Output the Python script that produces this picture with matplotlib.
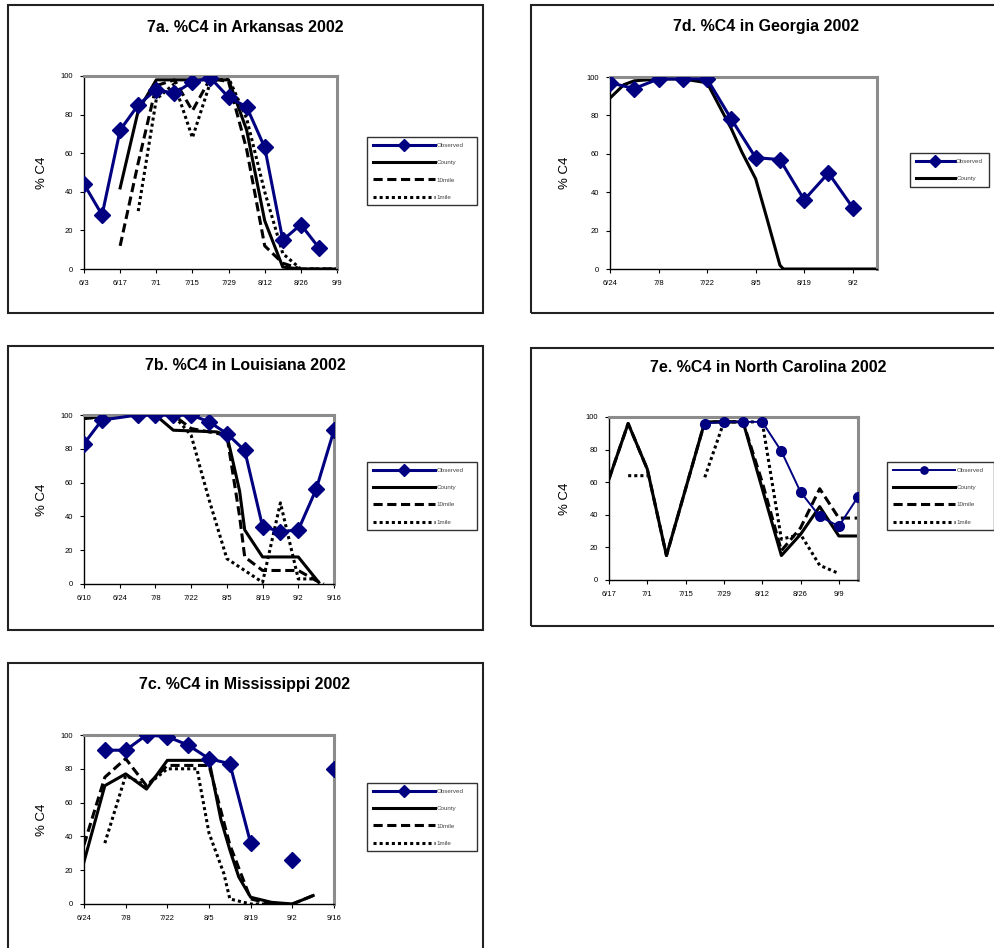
import pandas as pd
import numpy as np
import matplotlib
matplotlib.use("Agg")
import matplotlib.pyplot as plt
from matplotlib.patches import Rectangle

plt.rcParams['font.family'] = ['Liberation Sans', 'DejaVu Sans']

W, H = 995, 948
NAVY = '#000080'

# ---------- 7a Arkansas ----------
ark_ticks = ['6/3', '6/17', '7/1', '7/15', '7/29', '8/12', '8/26', '9/9']
ark_obs_dates = ['6/3', '6/10', '6/17', '6/24', '7/1', '7/8', '7/15', '7/22', '7/29', '8/5', '8/12', '8/19', '8/26', '9/2']
ark_obs = [44, 28, 72, 85, 93, 91, 97, 99, 89, 84, 63, 15, 23, 11]
ark_county_dates = ['6/17', '6/24', '7/1', '7/8', '7/15', '7/22', '7/29', '8/5', '8/12', '8/19', '8/26', '9/2', '9/9']
ark_county = [42, 82, 98, 98, 98, 98, 98, 72, 25, 1, 0, 0, 0]
ark_10mi_dates = ['6/17', '6/24', '7/1', '7/8', '7/15', '7/22', '7/29', '8/5', '8/12', '8/19', '8/26', '9/2', '9/9']
ark_10mi = [12, 55, 95, 98, 82, 99, 97, 62, 12, 3, 0, 0, 0]
ark_1mi_dates = ['6/24', '7/1', '7/8', '7/15', '7/22', '7/29', '8/5', '8/12', '8/19', '8/26', '9/2', '9/9']
ark_1mi = [30, 88, 96, 68, 97, 99, 78, 40, 8, 0, 0, 0]

# ---------- 7d Georgia ----------
geo_ticks = ['6/24', '7/8', '7/22', '8/5', '8/19', '9/2']
geo_obs_dates = ['6/24', '7/1', '7/8', '7/15', '7/22', '7/29', '8/5', '8/12', '8/19', '8/26', '9/2']
geo_obs = [97, 94, 99, 99, 99, 78, 58, 57, 36, 50, 32]
geo_county_dates = ['6/24', '6/28', '7/1', '7/8', '7/15', '7/22', '7/29', '8/1', '8/5', '8/8', '8/12', '8/13', '9/9']
geo_county = [89, 96, 98, 99, 99, 97, 73, 61, 47, 28, 2, 0, 0]

# ---------- 7b Louisiana ----------
lou_ticks = ['6/10', '6/24', '7/8', '7/22', '8/5', '8/19', '9/2', '9/16']
lou_obs_dates = ['6/10', '6/17', '7/1', '7/8', '7/15', '7/22', '7/29', '8/5', '8/12', '8/19', '8/26', '9/2', '9/9', '9/16']
lou_obs = [83, 97, 100, 100, 100, 100, 96, 89, 79, 34, 31, 32, 56, 91]
lou_county_dates = ['6/10', '6/24', '7/8', '7/15', '8/1', '8/5', '8/7', '8/10', '8/12', '8/19', '9/2', '9/10']
lou_county = [98, 100, 100, 91, 90, 88, 75, 55, 32, 16, 16, 1]
lou_10mi_dates = ['6/10', '6/24', '7/15', '7/22', '7/29', '8/5', '8/10', '8/12', '8/19', '9/2', '9/9', '9/12']
lou_10mi = [98, 100, 100, 92, 90, 88, 40, 16, 8, 8, 2, 0]
lou_1mi_dates = ['6/10', '6/24', '7/15', '7/22', '7/29', '8/5', '8/12', '8/19', '8/26', '9/2', '9/9']
lou_1mi = [98, 100, 100, 88, 50, 15, 8, 1, 48, 3, 3]

# ---------- 7e North Carolina ----------
nc_ticks = ['6/17', '7/1', '7/15', '7/29', '8/12', '8/26', '9/9']
nc_obs_dates = ['7/22', '7/29', '8/5', '8/12', '8/19', '8/26', '9/2', '9/9', '9/16']
nc_obs = [96, 97, 97, 97, 79, 54, 39, 33, 51]
nc_county_dates = ['6/17', '6/24', '7/1', '7/8', '7/22', '8/5', '8/19', '8/26', '9/2', '9/9', '9/16']
nc_county = [62, 96, 68, 15, 97, 97, 15, 28, 45, 27, 27]
nc_10mi_dates = ['6/17', '6/24', '7/1', '7/8', '7/22', '8/5', '8/12', '8/19', '8/26', '9/2', '9/9', '9/16']
nc_10mi = [62, 96, 68, 15, 97, 97, 60, 18, 32, 56, 38, 38]
nc_1mi_dates = ['6/24', '7/1', '7/8', '7/22', '7/29', '8/5', '8/12', '8/19', '8/26', '9/2', '9/9']
nc_1mi = [64, 64, np.nan, 63, 97, 97, 97, 25, 28, 9, 4]

# ---------- 7c Mississippi ----------
mis_ticks = ['6/24', '7/8', '7/22', '8/5', '8/19', '9/2', '9/16']
mis_obs_dates = ['7/1', '7/8', '7/15', '7/22', '7/29', '8/5', '8/12', '8/19', '8/26', '9/2', '9/9', '9/16']
mis_obs = [91, 91, 100, 99, 94, 86, 83, 36, np.nan, 26, np.nan, 80]
mis_county_dates = ['6/24', '7/1', '7/8', '7/15', '7/22', '7/29', '8/5', '8/9', '8/12', '8/15', '8/19', '8/26', '9/2', '9/9']
mis_county = [25, 70, 77, 68, 85, 85, 85, 50, 32, 16, 4, 1, 0, 5]
mis_10mi_dates = ['6/24', '7/1', '7/8', '7/15', '7/22', '7/29', '8/5', '8/12', '8/19', '8/26', '9/2', '9/9']
mis_10mi = [35, 75, 86, 70, 82, 82, 82, 35, 3, 0, 0, 5]
mis_1mi_dates = ['7/1', '7/8', '7/15', '7/22', '7/29', '8/1', '8/5', '8/10', '8/12', '8/19', '8/26', '9/2']
mis_1mi = [36, 76, 70, 80, 80, 80, 42, 18, 3, 0, 0, 0]

legend_labels = ['Observed', 'County', '10mile', '1mile']


def d(labels):
    return pd.to_datetime(['2002/' + s for s in labels])


def fx(x):
    return x / W


def fy(y):
    return 1 - y / H


fig = plt.figure(figsize=(W / 100, H / 100), dpi=100)


def panel(box, plot, title, title_xy, ylab_x, ticks, xlim, series, leg_rect,
          obs_marker='D', obs_lw=2.2, obs_ms=8.5, handlelen=10, expand=True):
    x0, y0, x1, y1 = box
    fig.patches.append(Rectangle((fx(x0), fy(y1)), fx(x1 - x0), (y1 - y0) / H,
                                 transform=fig.transFigure, fill=False,
                                 edgecolor='#222222', lw=1.5))
    fig.text(fx(title_xy[0]), fy(title_xy[1]), title, ha='center', va='center',
             fontsize=11.5, fontweight='bold')
    px0, py0, px1, py1 = plot
    ax = fig.add_axes([fx(px0), fy(py1), fx(px1 - px0), (py1 - py0) / H])
    fig.text(fx(ylab_x), fy((py0 + py1) / 2), '% C4', rotation=90, ha='center',
             va='center', fontsize=9.5)

    handles = []
    for kind, dates, vals in series:
        if kind == 'obs':
            h, = ax.plot(d(dates), vals, color=NAVY, lw=obs_lw, marker=obs_marker,
                         ms=obs_ms, zorder=5)
        elif kind == 'county':
            h, = ax.plot(d(dates), vals, color='black', lw=2.2)
        elif kind == '10mi':
            h, = ax.plot(d(dates), vals, color='black', lw=2.2, ls=(0, (3, 1.5)))
        else:
            h, = ax.plot(d(dates), vals, color='black', lw=2.2, ls=(0, (1, 1)))
        handles.append(h)

    ax.set_ylim(0, 100)
    ax.set_yticks(range(0, 101, 20))
    ax.set_xlim(d(xlim))
    ax.set_xticks(d(ticks))
    ax.set_xticklabels(ticks)
    ax.tick_params(labelsize=5.5, length=3, width=0.8, pad=5)
    for s in ['top', 'right']:
        ax.spines[s].set_color('#8c8c8c')
        ax.spines[s].set_linewidth(2.2)
    for s in ['left', 'bottom']:
        ax.spines[s].set_linewidth(1)

    lx0, ly0, lx1, ly1 = leg_rect
    if expand:
        anchor = (fx(lx0), fy(ly0), fx(lx1 - lx0), 0)
        mode = 'expand'
    else:
        anchor = (fx(lx0), fy(ly0))
        mode = None
    leg = fig.legend(handles, legend_labels[:len(handles)], loc='upper left',
                     bbox_to_anchor=anchor, bbox_transform=fig.transFigure,
                     mode=mode, fontsize=4.5, frameon=True, fancybox=False,
                     borderaxespad=0, handlelength=handlelen, handletextpad=0.2,
                     labelspacing=1.9, borderpad=0.9, markerscale=0.75)
    leg.get_frame().set_edgecolor('black')
    leg.get_frame().set_linewidth(1)
    for t in leg.get_texts():
        t.set_color('#444444')
    return ax


panel((8, 5, 483, 313), (84, 76, 337, 269), '7a. %C4 in Arkansas 2002', (245, 27), 42,
      ark_ticks, ['6/3', '9/9'],
      [('obs', ark_obs_dates, ark_obs), ('county', ark_county_dates, ark_county),
       ('10mi', ark_10mi_dates, ark_10mi), ('1mi', ark_1mi_dates, ark_1mi)],
      (367, 137, 477, 207))

panel((531, 5, 1005, 313), (610, 77, 877, 269), '7d. %C4 in Georgia 2002', (766, 27), 565,
      geo_ticks, ['6/24', '9/9'],
      [('obs', geo_obs_dates, geo_obs), ('county', geo_county_dates, geo_county)],
      (910, 153, 995, 185), handlelen=6.3, expand=False)

panel((8, 346, 483, 630), (84, 415, 334, 584), '7b. %C4 in Louisiana 2002', (245, 366), 42,
      lou_ticks, ['6/10', '9/16'],
      [('obs', lou_obs_dates, lou_obs), ('county', lou_county_dates, lou_county),
       ('10mi', lou_10mi_dates, lou_10mi), ('1mi', lou_1mi_dates, lou_1mi)],
      (367, 462, 477, 542))

panel((531, 348, 1005, 626), (609, 417, 858, 580), '7e. %C4 in North Carolina 2002', (768, 368), 565,
      nc_ticks, ['6/17', '9/16'],
      [('obs', nc_obs_dates, nc_obs), ('county', nc_county_dates, nc_county),
       ('10mi', nc_10mi_dates, nc_10mi), ('1mi', nc_1mi_dates, nc_1mi)],
      (887, 462, 994, 543), obs_marker='o', obs_lw=1.4, obs_ms=7)

panel((8, 663, 483, 960), (84, 735, 334, 904), '7c. %C4 in Mississippi 2002', (245, 685), 42,
      mis_ticks, ['6/24', '9/16'],
      [('obs', mis_obs_dates, mis_obs), ('county', mis_county_dates, mis_county),
       ('10mi', mis_10mi_dates, mis_10mi), ('1mi', mis_1mi_dates, mis_1mi)],
      (367, 783, 477, 862))

fig.savefig('out.png', dpi=100)
